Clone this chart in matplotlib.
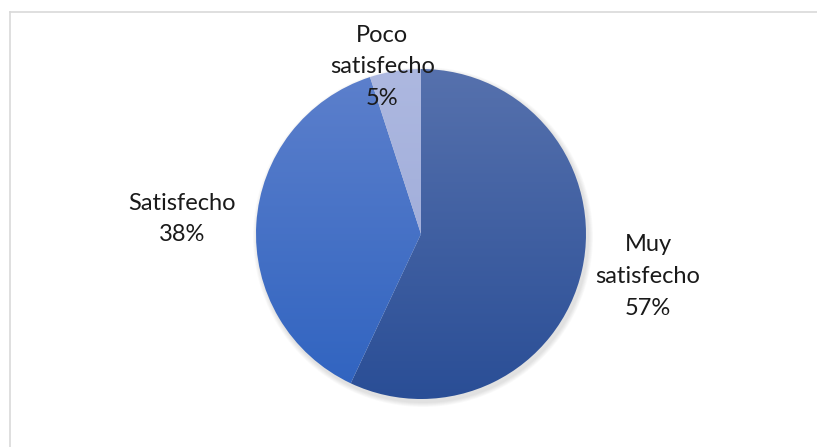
import numpy as np
import matplotlib.pyplot as plt
from matplotlib.colors import to_rgb
from matplotlib.lines import Line2D

# Data
labels = ['Muy\nsatisfecho', 'Satisfecho', 'Poco\nsatisfecho']
values = [57, 38, 5]

# top / bottom colour of each slice (vertical gradient)
top_colors = ['#5671ad', '#5d80cc', '#adb8e0']
bottom_colors = ['#2a4e96', '#2f63c0', '#98a6d6']

label_dist = [1.40, 1.45, 1.04]
label_shift = [2, 0, 4]  # degrees

W, H = 817, 447
fig = plt.figure(figsize=(W / 100, H / 100), dpi=100)
ax = fig.add_axes([0, 0, 1, 1])

cx, cy, r = 421, H - 234, 165

# soft shadow behind the pie
for k in range(6):
    ax.add_patch(plt.Circle((cx + 2, cy - 3), r + 1 + k * 0.8, color='black',
                            alpha=0.018, lw=0, zorder=0))

wedges, _ = ax.pie(values, startangle=90, counterclock=False, radius=r,
                   center=(cx, cy), frame=True,
                   wedgeprops=dict(linewidth=0, edgecolor='none'))
ax.set_xlim(0, W)
ax.set_ylim(0, H)
ax.axis('off')

# vertical gradient clipped to each wedge
ys = np.linspace(0, 1, 256)[:, None, None]
for w, c0, c1 in zip(wedges, top_colors, bottom_colors):
    a = np.array(to_rgb(c0))
    b = np.array(to_rgb(c1))
    grad = a * (1 - ys) + b * ys
    grad = np.repeat(grad, 2, axis=1)
    w.set_facecolor('none')
    im = ax.imshow(grad, extent=(cx - r, cx + r, cy - r, cy + r), origin='upper',
                   aspect='auto', zorder=2, interpolation='bilinear')
    im.set_clip_path(w)

# data labels
total = sum(values)
for w, lab, v, d, s in zip(wedges, labels, values, label_dist, label_shift):
    ang = np.deg2rad((w.theta1 + w.theta2) / 2 + s)
    x = cx + d * r * np.cos(ang)
    y = cy + d * r * np.sin(ang)
    ax.text(x, y, f'{lab}\n{round(100 * v / total)}%', ha='center', va='center',
            fontsize=17, family='Lato', color='#1a1a1a', linespacing=1.62,
            zorder=5)

# chart area border (top and left)
fig.add_artist(Line2D([10 / W, 1], [1 - 12 / H, 1 - 12 / H],
                      color='#d9d9d9', lw=1.2))
fig.add_artist(Line2D([10 / W, 10 / W], [0, 1 - 12 / H],
                      color='#d9d9d9', lw=1.2))

fig.savefig('out.png', dpi=100, facecolor='white')
